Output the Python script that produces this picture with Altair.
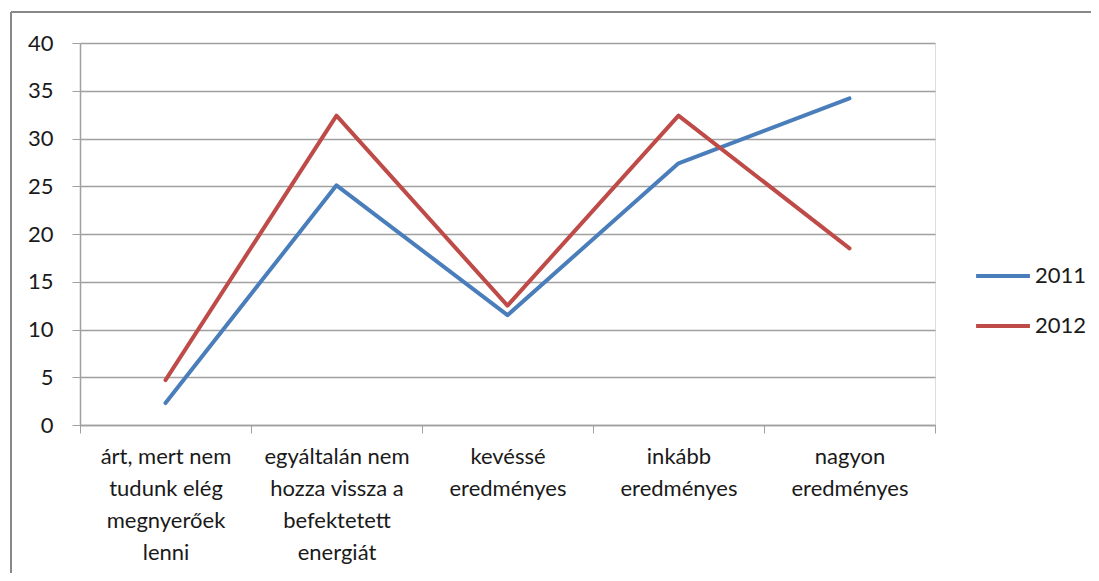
import altair as alt
import pandas as pd

categories = [
    "árt, mert nem\ntudunk elég\nmegnyerőek\nlenni",
    "egyáltalán nem\nhozza vissza a\nbefektetett\nenergiát",
    "kevéssé\neredményes",
    "inkább\neredményes",
    "nagyon\neredményes",
]
series = ["2011", "2012"]
values_2011 = [2.3, 25.1, 11.5, 27.4, 34.2]
values_2012 = [4.7, 32.4, 12.5, 32.4, 18.5]
y_ticks = [0, 5, 10, 15, 20, 25, 30, 35, 40]

rows = []
for s, vals in zip(series, [values_2011, values_2012]):
    for c, v in zip(categories, vals):
        rows.append({"cat": c, "year": s, "value": v})
df = pd.DataFrame(rows)

FONT = "Lato"
GRAY = "#a0a0a0"
TXT = "#1a1a1a"
FS = 22

lines = alt.Chart(df).mark_line(strokeWidth=4, strokeJoin="round", strokeCap="round").encode(
    x=alt.X(
        "cat:N",
        sort=categories,
        bandPosition=0.5,
        scale=alt.Scale(type="band", paddingInner=0, paddingOuter=0),
        axis=alt.Axis(
            title=None,
            grid=False,
            tickBand="extent",
            labelAngle=0,
            labelExpr="split(datum.label, '\\n')",
            labelFont=FONT,
            labelFontSize=FS,
            labelLineHeight=32,
            labelColor=TXT,
            labelPadding=13,
            labelLimit=400,
            labelBaseline="top",
            domainColor=GRAY,
            tickColor=GRAY,
            tickSize=8,
            domainWidth=1.5,
        ),
    ),
    y=alt.Y(
        "value:Q",
        scale=alt.Scale(domain=[0, 40]),
        axis=alt.Axis(
            title=None,
            values=y_ticks,
            grid=True,
            gridColor=GRAY,
            gridWidth=1.3,
            domainColor=GRAY,
            domainWidth=1.5,
            tickColor=GRAY,
            tickSize=8,
            labelFont=FONT,
            labelFontSize=FS,
            labelColor=TXT,
            labelPadding=19,
        ),
    ),
    color=alt.Color(
        "year:N",
        scale=alt.Scale(domain=series, range=["#4a7ebb", "#be4b48"]),
        legend=alt.Legend(
            title=None,
            orient="none",
            legendX=894,
            legendY=204,
            symbolType="stroke",
            symbolStrokeWidth=4,
            symbolSize=2900,
            labelFont=FONT,
            labelFontSize=FS,
            labelColor=TXT,
            labelOffset=3,
            rowPadding=10,
        ),
    ),
)

dummy = pd.DataFrame({"k": [0]})
top_border = alt.Chart(dummy).mark_rule(color="#888888", strokeWidth=2).encode(
    x=alt.value(-69), x2=alt.value(1200), y=alt.value(-31)
)
left_border = alt.Chart(dummy).mark_rule(color="#888888", strokeWidth=2).encode(
    x=alt.value(-69), y=alt.value(-31), y2=alt.value(700)
)

chart = alt.layer(lines, top_border, left_border).properties(
    width=855,
    height=382,
    autosize=alt.AutoSizeParams(type="none"),
    padding={"left": 72, "top": 35, "right": 156, "bottom": 148},
).configure_view(stroke=None).configure(background="white")

chart.save("out.html", embed_options={"renderer": "svg", "actions": False})
